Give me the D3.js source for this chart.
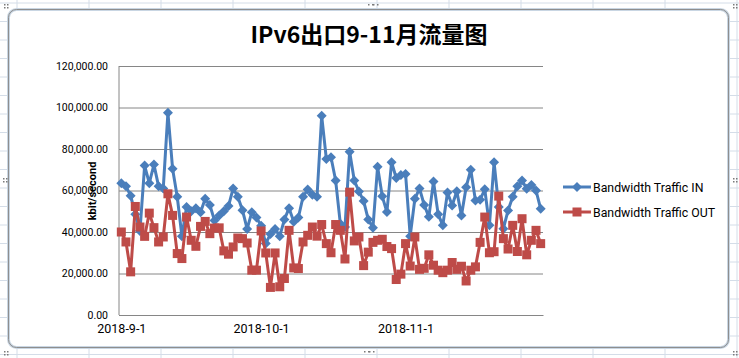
<!DOCTYPE html>
<html>
<head>
<meta charset="utf-8">
<script src="https://cdn.jsdelivr.net/npm/d3@7"></script>
<style>
body { margin: 0; background: #fff; }
text { font-family: "Open Sans", "Noto Sans", sans-serif; }
</style>
</head>
<body>
<svg class="chart" width="739" height="358"></svg>
<script>
// daily traffic, 2018-9-1 .. 2018-11-30
var startDate = new Date(2018, 8, 1);
var trafficIn = [
  63500, 62000, 57500, 48500, 40500, 72000, 63500, 72500, 62000, 61000,
  97500, 70500, 57000, 38000, 52000, 50000, 51500, 49500, 56000, 53000,
  45500, 48000, 50000, 52500, 61000, 57000, 50500, 41500, 49500, 47000,
  43000, 34500, 39000, 41500, 38000, 46000, 51500, 45000, 47000, 57000,
  60500, 58000, 57000, 96000, 75200, 76000, 64800, 44000, 42400, 78700,
  64800, 59500, 55000, 46000, 42000, 71500, 57200, 49600, 73600, 66000,
  67500, 68000, 38000, 56000, 61000, 53000, 47300, 64300, 48500, 43200,
  59000, 52800, 59600, 48000, 61600, 70000, 55200, 55500, 60600, 43200,
  73600, 52000, 41600, 50400, 57000, 62000, 64800, 60800, 62600, 60000,
  51200
];
var trafficOut = [
  40000, 35200, 20800, 52300, 42400, 37900, 49100, 42100, 35200, 37600,
  58400, 48000, 29600, 27200, 47200, 36000, 33100, 42700, 45100, 39200,
  41900, 42000, 30900, 29300, 32800, 37100, 36800, 34700, 21600, 21600,
  40500, 29900, 13300, 29900, 13600, 17600, 40800, 22700, 22400, 35200,
  38400, 42400, 38000, 43600, 34400, 30000, 43600, 40800, 27000, 59200,
  35700, 37600, 23800, 30300, 35000, 36000, 36500, 33000, 32000, 17100,
  19700, 34400, 23600, 37600, 22000, 22500, 29000, 24000, 21600, 20400,
  21600, 25300, 22000, 23500, 16400, 21600, 23200, 35000, 47200, 30000,
  30500, 57300, 36800, 31800, 43200, 30600, 46400, 29000, 36000, 40800,
  34400
];
var yTicks = [0, 20000, 40000, 60000, 80000, 100000, 120000];
var xTickDates = [new Date(2018, 8, 1), new Date(2018, 9, 1), new Date(2018, 10, 1)];
var xTickLabels = ["2018-9-1", "2018-10-1", "2018-11-1"];
var seriesNames = ["Bandwidth Traffic IN", "Bandwidth Traffic OUT"];
var seriesColors = ["#4A7EBB", "#BE4B48"];

var svg = d3.select(".chart"),
    margin = {top: 66, right: 196, bottom: 43, left: 119},
    width = +svg.attr("width") - margin.left - margin.right,
    height = +svg.attr("height") - margin.top - margin.bottom;

// spreadsheet cells behind the chart object
var sheet = svg.append("g");
for (var cx = 17; cx < 739; cx += 72) {
  sheet.append("line").attr("x1", cx).attr("x2", cx).attr("y1", 0).attr("y2", 358)
      .attr("stroke", "#d4dde8");
}
for (var cy = 3; cy < 358; cy += 18.5) {
  sheet.append("line").attr("x1", 0).attr("x2", 739).attr("y1", cy).attr("y2", cy)
      .attr("stroke", "#d4dde8");
}

// chart object frame
svg.append("rect")
    .attr("x", 8.5).attr("y", 9.5).attr("width", 720).attr("height", 338)
    .attr("rx", 8)
    .attr("fill", "#fff")
    .attr("stroke", "#c9d6e3").attr("stroke-width", 3);
svg.append("rect")
    .attr("x", 8.5).attr("y", 9.5).attr("width", 720).attr("height", 338)
    .attr("rx", 8)
    .attr("fill", "none")
    .attr("stroke", "#8e8e8e");

// grip dots
var grips = [[368, 4], [364, 351], [3, 178], [733, 178], [4, 4], [733, 4], [4, 351], [733, 351]];
grips.forEach(function(p) {
  for (var k = 0; k < 4; k++) {
    svg.append("rect").attr("x", p[0] + (k % 2) * 3 + (p[0] > 300 && p[0] < 400 ? k * 2 : 0))
        .attr("y", p[1] + (p[0] > 300 && p[0] < 400 ? 0 : Math.floor(k / 2) * 3))
        .attr("width", 1.5).attr("height", 1.5).attr("fill", "#7a7a7a");
  }
});

var g = svg.append("g").attr("transform", "translate(" + margin.left + "," + margin.top + ")");

var data = trafficIn.map(function(v, i) {
  return {date: d3.timeDay.offset(startDate, i), inV: v, outV: trafficOut[i]};
});

var x = d3.scaleTime()
    .domain([startDate, d3.timeDay.offset(startDate, data.length)])
    .range([0, width]);

var y = d3.scaleLinear()
    .domain([0, 120000])
    .range([height, 0]);

// slot centre for each day
function xc(d) { return x(d3.timeHour.offset(d, 12)); }

var yAxis = g.append("g")
    .call(d3.axisLeft(y).tickValues(yTicks).tickSize(-width).tickPadding(11)
      .tickFormat(d3.format(",.2f")));
yAxis.select(".domain").remove();
yAxis.selectAll(".tick line").attr("stroke", "#868686");
yAxis.selectAll(".tick text").attr("font-size", "10.5px").attr("fill", "#000")
    .style("font-family", "Roboto, sans-serif");

g.append("line").attr("x1", 0).attr("x2", 0).attr("y1", 0).attr("y2", height)
    .attr("stroke", "#868686");

var xAxis = g.append("g")
    .attr("transform", "translate(0," + height + ")")
    .call(d3.axisBottom(x)
      .tickValues(xTickDates.map(function(d) { return d3.timeHour.offset(d, 12); }))
      .tickSize(0).tickPadding(9)
      .tickFormat(function(d, i) { return xTickLabels[i]; }));
xAxis.select(".domain").attr("stroke", "#868686");
xAxis.selectAll(".tick text").attr("font-size", "12.5px").attr("fill", "#000")
    .style("font-family", "Roboto, sans-serif");

var lineIn = d3.line()
    .x(function(d) { return xc(d.date); })
    .y(function(d) { return y(d.inV); });

var lineOut = d3.line()
    .x(function(d) { return xc(d.date); })
    .y(function(d) { return y(d.outV); });

g.append("path")
    .datum(data)
    .attr("fill", "none")
    .attr("stroke", seriesColors[0])
    .attr("stroke-linejoin", "round")
    .attr("stroke-width", 3)
    .attr("d", lineIn);

g.selectAll(".mk-in")
    .data(data)
  .enter().append("path")
    .attr("class", "mk-in")
    .attr("transform", function(d) { return "translate(" + xc(d.date) + "," + y(d.inV) + ")"; })
    .attr("d", "M0,-5L5,0L0,5L-5,0Z")
    .attr("fill", seriesColors[0]);

g.append("path")
    .datum(data)
    .attr("fill", "none")
    .attr("stroke", seriesColors[1])
    .attr("stroke-linejoin", "round")
    .attr("stroke-width", 3)
    .attr("d", lineOut);

g.selectAll(".mk-out")
    .data(data)
  .enter().append("rect")
    .attr("class", "mk-out")
    .attr("x", function(d) { return xc(d.date) - 4.5; })
    .attr("y", function(d) { return y(d.outV) - 4.5; })
    .attr("width", 9).attr("height", 9)
    .attr("fill", seriesColors[1]);

// title
svg.append("text")
    .attr("x", 369).attr("y", 43)
    .attr("text-anchor", "middle")
    .attr("font-size", "23px").attr("font-weight", "bold")
    .style("font-family", "\"Noto Sans CJK SC\", sans-serif")
    .text("IPv6出口9-11月流量图");

// y axis title
svg.append("text")
    .attr("transform", "translate(96,191) rotate(-90)")
    .attr("text-anchor", "middle")
    .attr("font-size", "11px").attr("font-weight", "bold")
    .style("font-family", "Roboto, sans-serif")
    .text("kbit/second");

// legend
var legend = svg.append("g").attr("transform", "translate(563,187)");
seriesNames.forEach(function(name, i) {
  var row = legend.append("g").attr("transform", "translate(0," + i * 25 + ")");
  row.append("line").attr("x1", 0).attr("x2", 28).attr("y1", 0).attr("y2", 0)
      .attr("stroke", seriesColors[i]).attr("stroke-width", 3);
  if (i === 0) {
    row.append("path").attr("transform", "translate(14,0)")
        .attr("d", "M0,-5L5,0L0,5L-5,0Z").attr("fill", seriesColors[i]);
  } else {
    row.append("rect").attr("x", 9.5).attr("y", -4.5).attr("width", 9).attr("height", 9)
        .attr("fill", seriesColors[i]);
  }
  row.append("text").attr("x", 30).attr("y", 4.5)
      .attr("font-size", "12.3px")
      .style("font-family", "Roboto, sans-serif")
      .text(name);
});
</script>
</body>
</html>
